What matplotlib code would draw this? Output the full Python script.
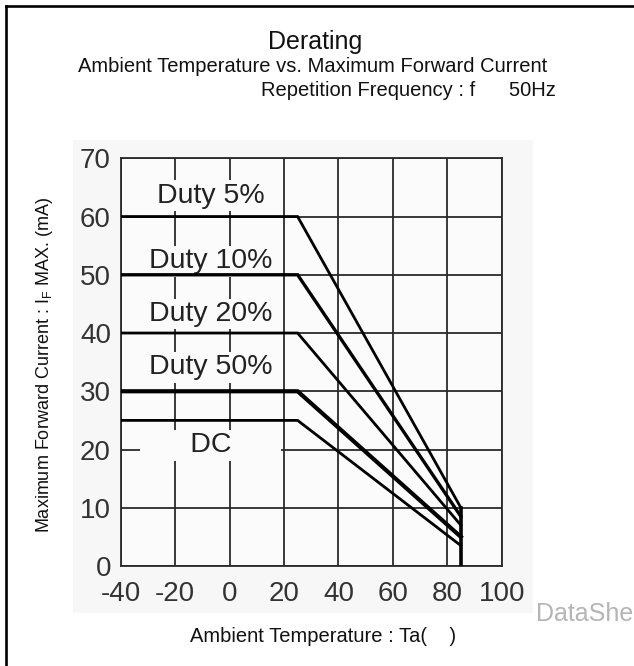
import matplotlib
matplotlib.use('Agg')
import matplotlib.pyplot as plt
from matplotlib.lines import Line2D
from matplotlib.patches import Rectangle

plt.rcParams['font.family'] = ['Liberation Sans', 'DejaVu Sans']
plt.rcParams['axes.unicode_minus'] = False

# data
labels = ['Duty 5%', 'Duty 10%', 'Duty 20%', 'Duty 50%', 'DC']
i_flat = [60, 50, 40, 30, 25]       # mA up to the knee
i_end = [10, 8.5, 7, 5, 3.5]        # mA at the maximum temperature
t_start = -40
t_knee = 25
t_end = 85
drop_x = [85, 85]
drop_y = [0, 10]
label_x = [-7, -7, -7, -7, -7]
label_y = [63.6, 52.3, 43.3, 34.1, 20.7]
xticks = [-40, -20, 0, 20, 40, 60, 80, 100]
yticks = [0, 10, 20, 30, 40, 50, 60, 70]

line_widths = [2.0, 2.4, 2.0, 3.0, 2.0]
W, H = 634, 666

fig = plt.figure(figsize=(W / 100, H / 100), dpi=100)

# light grey block behind the pasted plot
fig.patches.append(Rectangle((73 / W, 1 - 613 / H), (533 - 73) / W, (613 - 140) / H,
                             transform=fig.transFigure, facecolor='#f7f7f7',
                             edgecolor='none', zorder=-5))
# frame on the left and top
fig.add_artist(Line2D([6 / W, 6 / W], [0, 1 - 6 / H], color='k', lw=1.9))
fig.add_artist(Line2D([6 / W, 1], [1 - 6 / H, 1 - 6 / H], color='k', lw=1.9))

ax = fig.add_axes([120.7 / W, 1 - 566 / H, 381 / W, 407.7 / H])
ax.set_zorder(2)
ax.set_facecolor('#fbfbfb')

for i, name in enumerate(labels):
    ax.plot([t_start, t_knee, t_end], [i_flat[i], i_flat[i], i_end[i]],
            color='k', lw=line_widths[i], solid_joinstyle='miter', zorder=4)
    txt = name if name != 'DC' else '      DC      '
    ax.text(label_x[i], label_y[i], txt, ha='center', va='center', fontsize=20.5,
            color='#222222', zorder=3,
            bbox=dict(boxstyle='square,pad=0.08', facecolor='#fbfbfb', edgecolor='none'))
ax.plot(drop_x, drop_y, color='k', lw=2.6, zorder=4)

ax.set_xlim(-40, 100)
ax.set_ylim(0, 70)
ax.set_xticks(xticks)
ax.set_yticks(yticks)
ax.grid(True, color='#2a2a2a', lw=1.3, zorder=1)
ax.set_axisbelow(True)
for s in ax.spines.values():
    s.set_color('#2a2a2a')
    s.set_linewidth(1.3)
ax.tick_params(length=0, labelsize=20, labelcolor='#333333')
ax.tick_params(axis='x', pad=11)
ax.tick_params(axis='y', pad=7)

ax.set_ylabel('Maximum Forward Current : I$_\\mathregular{F}$ MAX. (mA)', fontsize=13,
              color='#111111')
ax.yaxis.set_label_coords(-0.172, 0.493)

fig.text(323 / W, 1 - 637 / H, 'Ambient Temperature : Ta(    )', ha='center', va='center',
         fontsize=14.5, color='#111111')
fig.text(315 / W, 1 - 42 / H, 'Derating', ha='center', va='center', fontsize=18, color='#111111')
fig.text(313 / W, 1 - 67 / H, 'Ambient Temperature vs. Maximum Forward Current',
         ha='center', va='center', fontsize=14.5, color='#111111')
fig.text(556 / W, 1 - 91 / H, 'Repetition Frequency : f      50Hz', ha='right', va='center',
         fontsize=14.5, color='#111111')
fig.text(536 / W, 1 - 614 / H, 'DataShe', ha='left', va='center', fontsize=18,
         color='#b5b5b5')

fig.savefig('out.png', dpi=100)
